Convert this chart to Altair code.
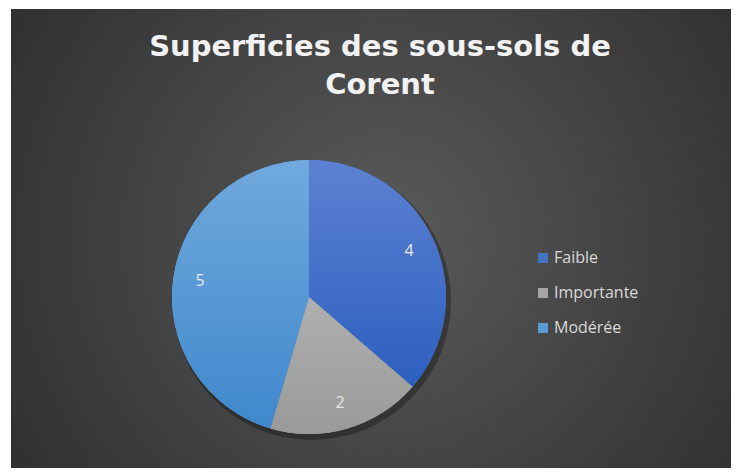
import math
import altair as alt
import pandas as pd

categories = ["Faible", "Importante", "Modérée"]
values = [4, 2, 5]
colors = ["#4472c4", "#a5a5a5", "#5b9bd5"]
grad_top = ["#5c81d2", "#afafaf", "#70a9dd"]
grad_bottom = ["#2c5fbf", "#9a9a9a", "#3f88cc"]
title_lines = ["Superficies des sous-sols de", "Corent"]

W, H = 723, 460
CX, CY, R = 301, 289, 137

df = pd.DataFrame({"cat": categories, "value": values, "order": list(range(len(values)))})
theta_scale = alt.Scale(domain=[0, sum(values)], range=[0, 2 * math.pi])

base = (
    alt.Chart(df)
    .transform_window(cum="sum(value)", sort=[alt.SortField("order")], frame=[None, 0])
    .transform_calculate(start="datum.cum - datum.value", mid="datum.cum - datum.value / 2")
)

one = pd.DataFrame({"a": [0]})

bg = alt.Chart(one).mark_rect(
    fill={
        "gradient": "radial",
        "x1": 0.52, "y1": 0.5, "r1": 0,
        "x2": 0.52, "y2": 0.5, "r2": 0.75,
        "stops": [
            {"offset": 0, "color": "#5a5a5a"},
            {"offset": 1, "color": "#262626"},
        ],
    }
).encode(x=alt.value(3), x2=alt.value(W), y=alt.value(1), y2=alt.value(H))

shadow = alt.Chart(one).mark_arc(
    radius=R + 2, theta=0, theta2=2 * math.pi, color="black", opacity=0.3
).encode(x=alt.value(CX + 3), y=alt.value(CY + 4))

arcs = base.mark_arc(radius=R).encode(
    theta=alt.Theta("start:Q", scale=theta_scale),
    theta2="cum:Q",
    color=alt.Color(
        "cat:N",
        scale=alt.Scale(domain=categories, range=colors),
        legend=alt.Legend(
            title=None,
            orient="none",
            legendX=527,
            legendY=242,
            symbolType="square",
            symbolSize=100,
            symbolStrokeWidth=0,
            labelFontSize=16,
            labelFont="Open Sans",
            labelColor="#d9d9d9",
            labelOffset=3,
            rowPadding=19,
            padding=0,
        ),
    ),
    x=alt.value(CX),
    y=alt.value(CY),
)

grad_layers = []
for i, c in enumerate(categories):
    grad_layers.append(
        base.transform_filter(alt.datum.cat == c)
        .mark_arc(
            radius=R,
            fill={
                "gradient": "linear",
                "x1": 0, "y1": 0, "x2": 0, "y2": 1,
                "stops": [
                    {"offset": 0, "color": grad_top[i]},
                    {"offset": 1, "color": grad_bottom[i]},
                ],
            },
        )
        .encode(
            theta=alt.Theta("start:Q", scale=theta_scale),
            theta2="cum:Q",
            x=alt.value(CX),
            y=alt.value(CY),
        )
    )

labels = base.mark_text(
    radius=110, fontSize=16, font="Open Sans", color="#e8e8e8"
).encode(
    theta=alt.Theta("mid:Q", scale=theta_scale),
    text="value:Q",
    x=alt.value(CX),
    y=alt.value(CY),
)

title = alt.Chart(one).mark_text(
    text=title_lines, font="DejaVu Sans", fontWeight="bold", fontSize=29,
    lineHeight=38, baseline="alphabetic", align="center", color="#f2f2f2"
).encode(x=alt.value(372), y=alt.value(48))

chart = (
    alt.layer(bg, shadow, arcs, *grad_layers, labels, title)
    .properties(width=W, height=H, background="white", padding=0,
                autosize=alt.AutoSizeParams(type="none"))
    .configure_view(stroke=None)
)

chart.save("out.html", embed_options={"renderer": "svg", "actions": False})
